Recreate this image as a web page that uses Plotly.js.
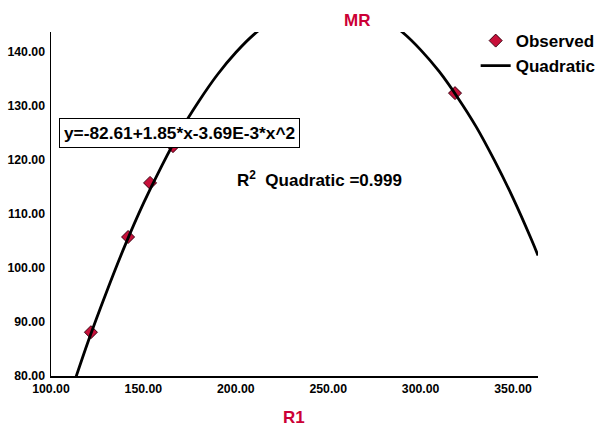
<!DOCTYPE html>
<html>
<head>
<meta charset="utf-8">
<script src="https://cdn.plot.ly/plotly-3.0.1.min.js"></script>
<style>html,body{margin:0;padding:0;background:#fff;}#chart{width:597px;height:432px;}</style>
</head>
<body>
<div id="chart"></div>
<script>
// Observed points (R1, MR)
var obsX = [121.6, 141.7, 153.6, 166.0, 318.6];
var obsY = [88.1, 105.7, 115.7, 122.5, 132.3];
// Quadratic fit curve
var fitX = [110, 120, 130, 140, 150, 160, 170, 180, 190, 200, 210, 220, 230, 240, 250, 260, 270, 280, 290, 300, 310, 320, 330, 340, 350, 360, 363.5];
var fitY = [76.2, 86.3, 95.5, 104.1, 111.9, 118.9, 125.3, 130.8, 135.7, 139.8, 143.2, 145.8, 147.7, 148.9, 149.3, 149.0, 147.9, 146.1, 143.6, 140.3, 136.3, 131.5, 126.1, 119.8, 112.9, 105.2, 102.3];
var yTicks = [80, 90, 100, 110, 120, 130, 140];
var xTicks = [100, 150, 200, 250, 300, 350];
var equationText = "y=-82.61+1.85*x-3.69E-3*x^2";
var r2Text = "R<sup>2</sup>  Quadratic =0.999";

var FONT = "Liberation Sans, Arial, sans-serif";
var RED = "#cc0036";

var traces = [
  {x: obsX, y: obsY, mode: "markers", type: "scatter", name: "Observed",
   marker: {symbol: "diamond", size: 10, color: "#c8103a", line: {color: "#3a0010", width: 1}}},
  {x: fitX, y: fitY, mode: "lines", type: "scatter", name: "Quadratic",
   line: {color: "#000", width: 2.8, shape: "spline"}}
];

var layout = {
  width: 597, height: 432,
  margin: {l: 51, r: 59, t: 32, b: 56, autoexpand: false},
  paper_bgcolor: "#fff", plot_bgcolor: "#fff",
  font: {family: FONT, size: 12, color: "#000"},
  showlegend: true,
  legend: {x: 0.872, y: 1.026, xanchor: "left", yanchor: "top", bgcolor: "rgba(0,0,0,0)",
           font: {family: FONT, size: 17, color: "#000", weight: 700}, tracegroupgap: 0, itemwidth: 30},
  xaxis: {range: [100, 363.5], tickvals: xTicks, ticktext: xTicks.map(function(v){return v.toFixed(2);}),
          showgrid: false, zeroline: false, showline: true, linecolor: "#000", linewidth: 1.5,
          ticks: "", ticklabelstandoff: 1, tickfont: {family: FONT, size: 12.3, weight: 700}},
  yaxis: {range: [80, 143.6], tickvals: yTicks, ticktext: yTicks.map(function(v){return v.toFixed(2);}),
          showgrid: false, zeroline: false, showline: true, linecolor: "#000", linewidth: 1.5,
          ticks: "", ticklabelstandoff: 2, tickfont: {family: FONT, size: 12.3, weight: 700}},
  annotations: [
    {xref: "paper", yref: "paper", x: 0.629, y: 1.033, xanchor: "center", yanchor: "middle", text: "MR", showarrow: false,
     font: {family: FONT, size: 17, color: RED, weight: 700}},
    {xref: "paper", yref: "paper", x: 0.499, y: -0.122, xanchor: "center", yanchor: "middle", text: "R1", showarrow: false,
     font: {family: FONT, size: 17, color: RED, weight: 700}},
    {xref: "paper", yref: "paper", x: 0.263, y: 0.706, xanchor: "center", yanchor: "middle", text: equationText, showarrow: false,
     bgcolor: "#fff", bordercolor: "#000", borderwidth: 1, borderpad: 4,
     font: {family: FONT, size: 17.3, color: "#000", weight: 700}},
    {xref: "paper", yref: "paper", x: 0.552, y: 0.573, xanchor: "center", yanchor: "middle", text: r2Text, showarrow: false,
     font: {family: FONT, size: 17, color: "#000", weight: 700}}
  ]
};

Plotly.newPlot("chart", traces, layout, {displayModeBar: false, staticPlot: true});
</script>
</body>
</html>
